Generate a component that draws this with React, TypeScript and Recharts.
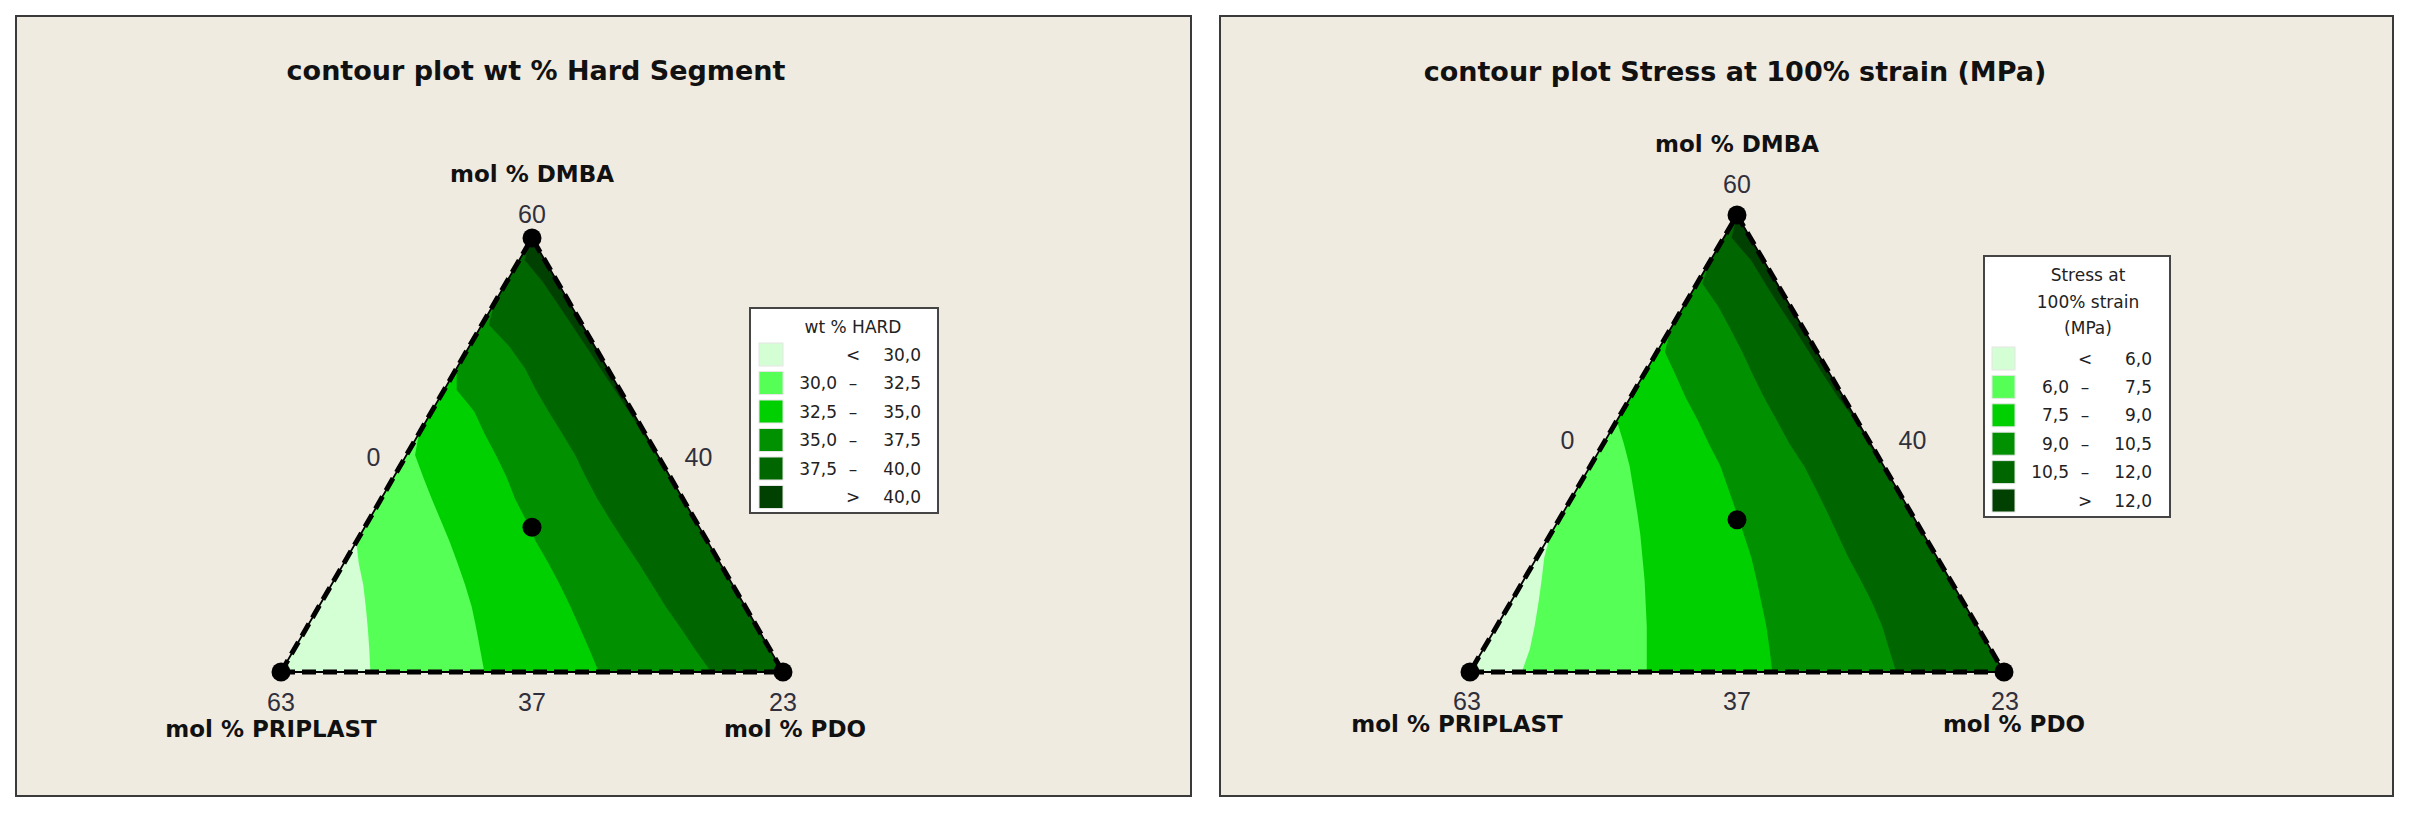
import React from 'react';
import {
  ComposedChart,
  Area,
  Line,
  XAxis,
  YAxis,
  ReferenceDot,
  Legend,
} from 'recharts';

type Cut = number | null;
type Side = 'left' | 'right';

// heights inside the triangle (0 = base, 1 = top vertex) where the contour lines were read
const levels = [0, 0.05, 0.1, 0.15, 0.2, 0.25, 0.3, 0.35, 0.4, 0.45, 0.5, 0.55, 0.6, 0.65, 0.7, 0.75, 0.8, 0.85, 0.9, 0.95, 1];

const bandColors = ['#d4fed4', '#55ff55', '#00d000', '#009000', '#006600', '#004000'];

const cornerNames = ['mol % PRIPLAST', 'mol % PDO', 'mol % DMBA'];
const cornerTicks = ['63', '23', '60'];
const edgeTicks = ['37', '40', '0'];

// triangle in plot units: u across the base, v up to the top vertex
const corners = [{ u: 0, v: 0 }, { u: 1, v: 0 }, { u: 0.5, v: 1 }];
const edgeMids = [{ u: 0.5, v: 0 }, { u: 0.75, v: 0.5 }, { u: 0.25, v: 0.5 }];
const designPoints = [...corners, { u: 0.5, v: 1 / 3 }];

// wt % HARD: position (u) of each contour line at every level, null once it has left the triangle
const hardTitle = 'contour plot wt % Hard Segment';
const hardLegendTitle = ['wt % HARD'];
const hardBreaks = [30.0, 32.5, 35.0, 37.5, 40.0];
const hard30: Cut[] = [0.178, 0.176, 0.173, 0.169, 0.164, 0.155, null, null, null, null, null, null, null, null, null, null, null, null, null, null, null];
const hard325: Cut[] = [0.405, 0.397, 0.389, 0.38, 0.367, 0.352, 0.336, 0.318, 0.3, 0.283, 0.267, null, null, null, null, null, null, null, null, null, null];
const hard35: Cut[] = [0.633, 0.615, 0.596, 0.577, 0.556, 0.533, 0.508, 0.488, 0.466, 0.449, 0.428, 0.405, 0.385, 0.35, null, null, null, null, null, null, null];
const hard375: Cut[] = [0.857, 0.826, 0.797, 0.767, 0.74, 0.713, 0.684, 0.656, 0.63, 0.607, 0.586, 0.56, 0.533, 0.508, 0.486, 0.455, 0.414, null, null, null, null];
const hard40: Cut[] = [null, null, null, null, null, null, null, null, null, null, 0.748, 0.72, 0.693, 0.665, 0.636, 0.608, 0.579, 0.55, 0.521, 0.485, 0.5];
const hardExits: Side[] = ['left', 'left', 'left', 'left', 'right'];

// Stress at 100% strain (MPa)
const stressTitle = 'contour plot Stress at 100% strain (MPa)';
const stressLegendTitle = ['Stress at', '100% strain', '(MPa)'];
const stressBreaks = [6.0, 7.5, 9.0, 10.5, 12.0];
const stress6: Cut[] = [0.097, 0.112, 0.121, 0.128, 0.134, 0.139, null, null, null, null, null, null, null, null, null, null, null, null, null, null, null];
const stress75: Cut[] = [0.331, 0.331, 0.331, 0.329, 0.327, 0.323, 0.319, 0.313, 0.306, 0.299, 0.288, null, null, null, null, null, null, null, null, null, null];
const stress9: Cut[] = [0.566, 0.561, 0.555, 0.546, 0.537, 0.527, 0.513, 0.499, 0.484, 0.469, 0.447, 0.427, 0.404, 0.385, 0.365, null, null, null, null, null, null];
const stress105: Cut[] = [0.798, 0.785, 0.772, 0.754, 0.732, 0.709, 0.689, 0.669, 0.648, 0.626, 0.598, 0.575, 0.551, 0.53, 0.51, 0.488, 0.465, 0.435, null, null, null];
const stress12: Cut[] = [null, null, null, null, null, null, null, null, null, null, 0.745, 0.722, 0.69, 0.662, 0.635, 0.608, 0.58, 0.553, 0.527, 0.49, 0.5];
const stressExits: Side[] = ['left', 'left', 'left', 'left', 'right'];

const fmt = (n: number) => n.toFixed(1).replace('.', ',');

// band k spans from contour k-1 to the right edge; drawn in order so later bands cover earlier ones
function bandRows(lines: Cut[][], exits: Side[], k: number) {
  return levels.map((v, j) => {
    const lo = v / 2;
    const hi = 1 - v / 2;
    let start = lo;
    if (k > 0) {
      const c = lines[k - 1][j];
      start = c == null ? (exits[k - 1] === 'left' ? lo : hi) : Math.min(hi, Math.max(lo, c));
    }
    return { v, band: [start, hi] };
  });
}

const tickStyle = { fontFamily: '"Liberation Sans", Arial, sans-serif', fontSize: 25, fill: '#30303c' };
const nameStyle = { fontFamily: '"DejaVu Sans", sans-serif', fontSize: 23, fontWeight: 700, fill: '#111' };

const placeText = (text: string, dx: number, dy: number, style: any) => (props: any) => {
  const vb = props.viewBox || {};
  const x = (vb.x ?? 0) + (vb.width ?? 0) / 2 + dx;
  const y = (vb.y ?? 0) + (vb.height ?? 0) / 2 + dy;
  return (
    <text x={x} y={y} textAnchor="middle" dominantBaseline="central" {...style}>
      {text}
    </text>
  );
};

const LegendBox = ({ g, title, breaks }: any) => {
  const rows = bandColors.map((c, i) => {
    const top = g.rowTop + i * g.pitch;
    const cy = top + g.swH / 2;
    const low = i > 0 && i < 5 ? fmt(breaks[i - 1]) : '';
    const sign = i === 0 ? '<' : i === 5 ? '>' : '–';
    const high = i === 5 ? fmt(breaks[4]) : fmt(breaks[i]);
    return (
      <g key={i}>
        <rect x={g.swX} y={top} width={g.swW} height={g.swH} fill={c} stroke="#e6e6e6" strokeWidth={1} />
        <text x={g.lowRight} y={cy} textAnchor="end" dominantBaseline="central">{low}</text>
        <text x={g.signX} y={cy} textAnchor="middle" dominantBaseline="central">{sign}</text>
        <text x={g.highRight} y={cy} textAnchor="end" dominantBaseline="central">{high}</text>
      </g>
    );
  });
  return (
    <svg width={g.width} height={g.height} style={{ display: 'block' }} fontFamily='"DejaVu Sans", sans-serif' fontSize={17} fill="#222">
      <rect x={1} y={1} width={g.width - 2} height={g.height - 2} fill="#fff" stroke="#454545" strokeWidth={2} />
      {title.map((t: string, i: number) => (
        <text key={t} x={g.titleX} y={g.titleY + i * g.titlePitch} textAnchor="middle" dominantBaseline="central">
          {t}
        </text>
      ))}
      {rows}
    </svg>
  );
};

const panels = [
  {
    x: 0,
    width: 1205,
    box: { left: 15, top: 15, width: 1177, height: 782 },
    title: hardTitle,
    titleX: 536,
    titleY: 71,
    margin: { top: 238, bottom: 142, left: 281, right: 422 },
    lines: [hard30, hard325, hard35, hard375, hard40],
    exits: hardExits,
    breaks: hardBreaks,
    legendTitle: hardLegendTitle,
    legend: { left: 749, top: 307, width: 190, height: 207, titleX: 104, titleY: 20, titlePitch: 26, rowTop: 36, pitch: 28.5, swX: 10, swW: 24, swH: 23, lowRight: 88, signX: 104, highRight: 172 },
    cornerTickOff: [[0, 30], [0, 30], [0, -24]],
    edgeTickOff: [[0, 30], [41, 2], [-33, 2]],
    nameOff: [[-10, 57], [12, 57], [0, -64]],
  },
  {
    x: 1205,
    width: 1206,
    box: { left: 14, top: 15, width: 1175, height: 782 },
    title: stressTitle,
    titleX: 530,
    titleY: 72,
    margin: { top: 215, bottom: 142, left: 265, right: 407 },
    lines: [stress6, stress75, stress9, stress105, stress12],
    exits: stressExits,
    breaks: stressBreaks,
    legendTitle: stressLegendTitle,
    legend: { left: 778, top: 255, width: 188, height: 263, titleX: 105, titleY: 20, titlePitch: 26.5, rowTop: 92, pitch: 28.4, swX: 9, swW: 23, swH: 23, lowRight: 86, signX: 102, highRight: 169 },
    cornerTickOff: [[-3, 29], [1, 29], [0, -31]],
    edgeTickOff: [[0, 29], [42, -4], [-36, -4]],
    nameOff: [[-13, 52], [10, 52], [0, -71]],
  },
];

const outline = [...corners, corners[0]];

function TernaryPanel({ p }: { p: any }) {
  return (
    <div style={{ position: 'absolute', left: p.x, top: 0, width: p.width, height: 814 }}>
      <div
        style={{
          position: 'absolute',
          ...p.box,
          boxSizing: 'border-box',
          border: '2px solid #3a3a3a',
          background: '#f0ebe1',
        }}
      />
      <div
        style={{
          position: 'absolute',
          left: p.titleX - 450,
          width: 900,
          top: p.titleY - 18,
          lineHeight: '36px',
          textAlign: 'center',
          fontFamily: '"DejaVu Sans", sans-serif',
          fontWeight: 700,
          fontSize: 27,
          color: '#111',
        }}
      >
        {p.title}
      </div>
      <div style={{ position: 'absolute', left: 0, top: 0 }}>
        <ComposedChart width={p.width} height={814} layout="vertical" margin={p.margin}>
          <XAxis type="number" dataKey="u" domain={[0, 1]} hide />
          <YAxis type="number" dataKey="v" domain={[0, 1]} hide reversed />
          {bandColors.map((c, k) => (
            <Area
              key={c}
              data={bandRows(p.lines, p.exits, k)}
              dataKey="band"
              type="linear"
              fill={c}
              fillOpacity={1}
              stroke="none"
              dot={false}
              activeDot={false}
              isAnimationActive={false}
            />
          ))}
          <Line data={outline} dataKey="u" type="linear" stroke="#000" strokeWidth={1.8} dot={false} activeDot={false} isAnimationActive={false} />
          <Line data={outline} dataKey="u" type="linear" stroke="#000" strokeWidth={5} strokeDasharray="14 7" dot={false} activeDot={false} isAnimationActive={false} />
          <Line data={designPoints} dataKey="u" stroke="none" dot={{ r: 9.5, fill: '#000', stroke: 'none' }} activeDot={false} isAnimationActive={false} />
          {corners.map((c, i) => (
            <ReferenceDot key={'t' + i} x={c.u} y={c.v} r={0} fill="none" stroke="none"
              label={placeText(cornerTicks[i], p.cornerTickOff[i][0], p.cornerTickOff[i][1], tickStyle)} />
          ))}
          {edgeMids.map((c, i) => (
            <ReferenceDot key={'e' + i} x={c.u} y={c.v} r={0} fill="none" stroke="none"
              label={placeText(edgeTicks[i], p.edgeTickOff[i][0], p.edgeTickOff[i][1], tickStyle)} />
          ))}
          {corners.map((c, i) => (
            <ReferenceDot key={'n' + i} x={c.u} y={c.v} r={0} fill="none" stroke="none"
              label={placeText(cornerNames[i], p.nameOff[i][0], p.nameOff[i][1], nameStyle)} />
          ))}
          <Legend
            layout="horizontal"
            verticalAlign="middle"
            align="center"
            wrapperStyle={{ left: p.legend.left, top: p.legend.top, width: p.legend.width, height: p.legend.height }}
            content={() => <LegendBox g={p.legend} title={p.legendTitle} breaks={p.breaks} />}
          />
        </ComposedChart>
      </div>
    </div>
  );
}

export default function App() {
  return (
    <div style={{ position: 'absolute', left: 0, top: 0, width: 2411, height: 814, background: '#fff' }}>
      {panels.map((p) => (
        <TernaryPanel key={p.x} p={p} />
      ))}
    </div>
  );
}
